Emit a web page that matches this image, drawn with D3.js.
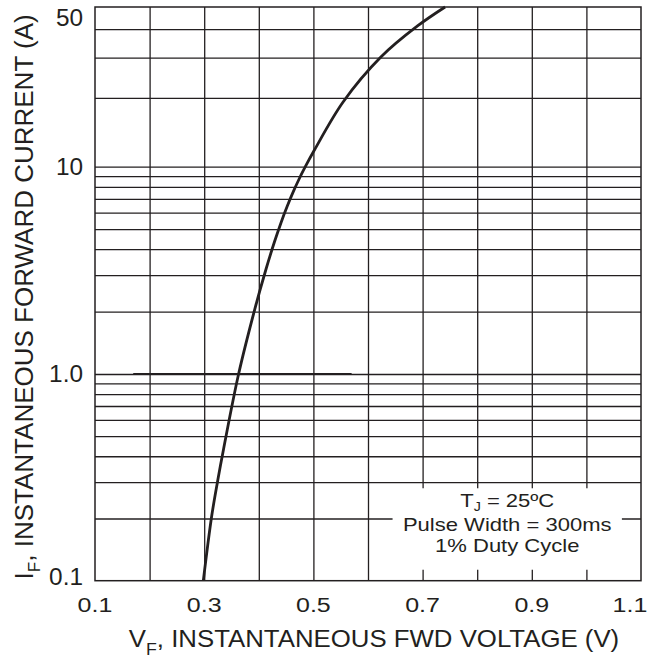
<!DOCTYPE html>
<html><head><meta charset="utf-8">
<script src="https://cdn.jsdelivr.net/npm/d3@7"></script>
<style>body{margin:0;background:#fff} svg{display:block}</style>
</head><body><svg id="chart" width="662" height="660"></svg>
<script>
// ---- data ----
const voltageTickValues = [0.1, 0.3, 0.5, 0.7, 0.9, 1.1];
const voltageTickLabels = ["0.1", "0.3", "0.5", "0.7", "0.9", "1.1"];
const voltageGridValues = [0.2, 0.3, 0.4, 0.5, 0.6, 0.7, 0.8, 0.9, 1.0];
const currentTickValues = [0.1, 1, 10, 50];
const currentTickLabels = ["0.1", "1.0", "10", "50"];
const currentGridValues = [0.2, 0.3, 0.4, 0.5, 0.6, 0.7, 0.8, 0.9, 1,
                           2, 3, 4, 5, 6, 7, 8, 9, 10, 20, 30, 40];
const curveVoltage = [0.2984, 0.3138, 0.3260, 0.3355, 0.3630, 0.3928, 0.4133, 0.4286,
                      0.4407, 0.4522, 0.4632, 0.4736, 0.4852, 0.5016, 0.5544, 0.6236,
                      0.6907, 0.7412];
const curveCurrent = [0.1, 0.206, 0.318, 0.434, 1.0, 2.06, 3.21, 4.33,
                      5.37, 6.46, 7.58, 8.70, 10, 11.8, 19.2, 30.2,
                      41.3, 50];
const xTitle = ["V", "F", ", INSTANTANEOUS FWD VOLTAGE (V)"];
const yTitle = ["I", "F", ", INSTANTANEOUS FORWARD CURRENT (A)"];
const noteLines = [["T", "J", " = 25ºC"], ["Pulse Width = 300ms"], ["1% Duty Cycle"]];
const noteBoxVoltage = [0.645, 1.065];
const noteBoxCurrent = [0.113, 0.28];
const emphasis = {current: 1, from: 0.17, to: 0.57};

// ---- layout ----
const plotL = 95, plotR = 641, plotT = 7, plotB = 580.7;
const ink = "#231f20";
const fontFam = "'Liberation Sans', Arial, Helvetica, sans-serif";

const svg = d3.select("#chart");
const x = d3.scaleLinear().domain([0.1, 1.1]).range([plotL, plotR]);
const y = d3.scaleLog().domain([0.1, 1, 10, 50]).range([plotB, 374, 166.7, plotT]);

// gridlines via axes
const gx = svg.append("g").attr("transform", `translate(0,${plotB})`)
  .call(d3.axisBottom(x).tickValues(voltageGridValues).tickSize(-(plotB - plotT)).tickFormat(""));
const gy = svg.append("g").attr("transform", `translate(${plotL},0)`)
  .call(d3.axisLeft(y).tickValues(currentGridValues).tickSize(-(plotR - plotL)).tickFormat(""));
[gx, gy].forEach(g => {
  g.select(".domain").remove();
  g.selectAll(".tick line").attr("stroke", ink).attr("stroke-width", 1.3);
});

// emphasised segment on the 1.0 line
svg.append("line")
  .attr("x1", x(emphasis.from)).attr("x2", x(emphasis.to))
  .attr("y1", y(emphasis.current)).attr("y2", y(emphasis.current))
  .attr("stroke", ink).attr("stroke-width", 2.2);

// annotation box (blank area)
svg.append("rect")
  .attr("x", x(noteBoxVoltage[0])).attr("width", x(noteBoxVoltage[1]) - x(noteBoxVoltage[0]))
  .attr("y", y(noteBoxCurrent[1])).attr("height", y(noteBoxCurrent[0]) - y(noteBoxCurrent[1]))
  .attr("fill", "#fff");

// frame
svg.append("rect").attr("x", plotL).attr("y", plotT)
  .attr("width", plotR - plotL).attr("height", plotB - plotT)
  .attr("fill", "none").attr("stroke", ink).attr("stroke-width", 1.5);

// curve
const pts = curveVoltage.map((v, i) => [v, curveCurrent[i]]);
svg.append("path").datum(pts)
  .attr("d", d3.line().x(d => x(d[0])).y(d => y(d[1])).curve(d3.curveCatmullRom.alpha(0.5)))
  .attr("fill", "none").attr("stroke", ink).attr("stroke-width", 2.8)
  .attr("stroke-linecap", "butt");

// y tick labels
currentTickValues.forEach((v, i) => {
  const cy = Math.max(18, Math.min(577, y(v)));
  svg.append("text")
    .attr("transform", `translate(83,${cy}) scale(1.06,1)`)
    .attr("text-anchor", "end").attr("dy", "0.36em")
    .attr("font-family", fontFam).attr("font-size", 23).attr("fill", ink)
    .text(currentTickLabels[i]);
});

// x tick labels
voltageTickValues.forEach((v, i) => {
  const cx = Math.min(630, x(v));
  svg.append("text")
    .attr("transform", `translate(${cx},612) scale(1.22,1)`)
    .attr("text-anchor", "middle")
    .attr("font-family", fontFam).attr("font-size", 20.5).attr("fill", ink)
    .text(voltageTickLabels[i]);
});

// x title
const xt = svg.append("text")
  .attr("transform", `translate(${(plotL + plotR) / 2 + 6},647) scale(1.075,1)`)
  .attr("text-anchor", "middle").attr("font-family", fontFam).attr("font-size", 24).attr("fill", ink);
xt.append("tspan").text(xTitle[0]);
xt.append("tspan").attr("font-size", 16.5).attr("dy", 8).text(xTitle[1]);
xt.append("tspan").attr("dy", -8).text(xTitle[2]);

// y title
const yt = svg.append("text")
  .attr("transform", `translate(33,${(plotT + plotB) / 2 + 3}) rotate(-90)`)
  .attr("text-anchor", "middle").attr("font-family", fontFam).attr("font-size", 26).attr("fill", ink);
yt.append("tspan").text(yTitle[0]);
yt.append("tspan").attr("font-size", 17).attr("dy", 7).text(yTitle[1]);
yt.append("tspan").attr("dy", -7).text(yTitle[2]);

// annotation
const noteX = x((noteBoxVoltage[0] + noteBoxVoltage[1]) / 2);
const noteBase = [507, 530.5, 552];
noteLines.forEach((segs, i) => {
  const t = svg.append("text")
    .attr("transform", `translate(${noteX},${noteBase[i]}) scale(1.19,1)`)
    .attr("text-anchor", "middle").attr("font-family", fontFam).attr("font-size", 18.5).attr("fill", ink);
  if (segs.length === 3) {
    t.append("tspan").text(segs[0]);
    t.append("tspan").attr("font-size", 12).attr("dy", 4).text(segs[1]);
    t.append("tspan").attr("dy", -4).text(segs[2]);
  } else {
    t.text(segs[0]);
  }
});
</script></body></html>
